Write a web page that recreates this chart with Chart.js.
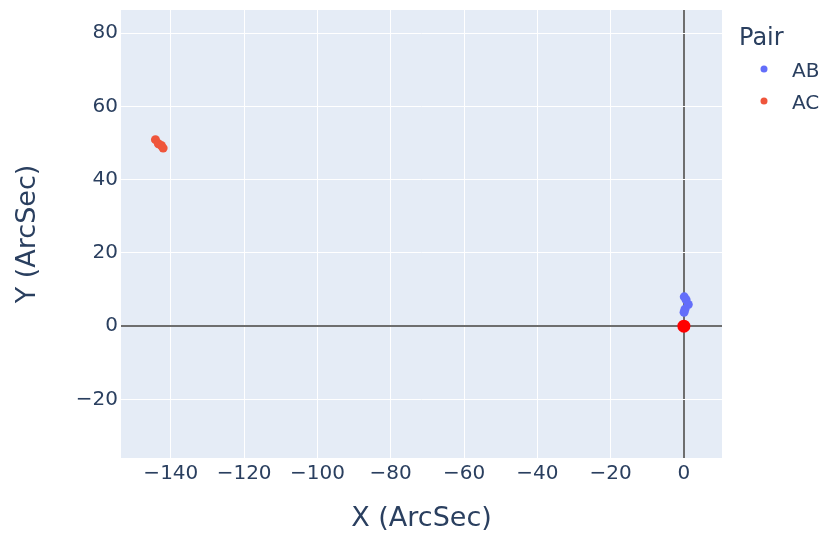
<!DOCTYPE html>
<html>
<head>
<meta charset="utf-8">
<script src="https://cdn.jsdelivr.net/npm/chart.js@4/dist/chart.umd.min.js"></script>
<style>
  html, body { margin: 0; padding: 0; background: #fff; }
  #wrap { width: 824px; height: 533px; position: relative; }
</style>
</head>
<body>
<div id="wrap"><canvas id="chart"></canvas></div>
<script>
// separation offsets (arcsec)
const abX = [0.1, 0.6, 1.2, 0.3, 0.05];
const abY = [8.0, 7.2, 5.9, 4.6, 3.8];
const acX = [-144.2, -143.4, -142.6, -142.1];
const acY = [50.9, 49.8, 49.3, 48.6];
const originX = [0];
const originY = [0];

const xTicks = [-140, -120, -100, -80, -60, -40, -20, 0];
const yTicks = [-20, 0, 20, 40, 60, 80];
const xRange = [-153.6, 10.4];
const yRange = [-36, 86.3];

const textColor = '#2a3f5f';
const fontFamily = '"DejaVu Sans", Verdana, sans-serif';

const toPoints = (xs, ys) => xs.map((x, i) => ({ x, y: ys[i] }));
const fmt = (v) => (v < 0 ? '\u2212' + Math.abs(v) : String(v));

const plotBg = {
  id: 'plotBg',
  beforeDraw(chart) {
    const { ctx, chartArea: a } = chart;
    ctx.save();
    ctx.fillStyle = '#e5ecf6';
    ctx.fillRect(a.left, a.top, a.right - a.left, a.bottom - a.top);
    ctx.restore();
  }
};

// plotly style legend on the right
const sideLegend = {
  id: 'sideLegend',
  afterDraw(chart) {
    const { ctx } = chart;
    ctx.save();
    ctx.fillStyle = textColor;
    ctx.textBaseline = 'alphabetic';
    ctx.textAlign = 'left';
    ctx.font = '24px ' + fontFamily;
    ctx.fillText('Pair', 739, 45);
    const items = chart.data.datasets.filter((d) => d.label !== 'origin');
    items.forEach((d, i) => {
      const y = 69 + i * 32;
      ctx.beginPath();
      ctx.arc(764, y, 3.5, 0, Math.PI * 2);
      ctx.fillStyle = d.backgroundColor;
      ctx.fill();
      ctx.fillStyle = textColor;
      ctx.font = '20px ' + fontFamily;
      ctx.fillText(d.label, 792, y + 8);
    });
    ctx.restore();
  }
};

const gridColor = (ctx) => (ctx.tick && ctx.tick.value === 0 ? '#6e6e6e' : '#ffffff');
const gridWidth = (ctx) => (ctx.tick && ctx.tick.value === 0 ? 2 : 1);

new Chart(document.getElementById('chart'), {
  type: 'scatter',
  data: {
    datasets: [
      {
        label: 'AB',
        data: toPoints(abX, abY),
        backgroundColor: '#636efa',
        borderWidth: 0,
        pointRadius: 4.5
      },
      {
        label: 'AC',
        data: toPoints(acX, acY),
        backgroundColor: '#ef553b',
        borderWidth: 0,
        pointRadius: 4.5
      },
      {
        label: 'origin',
        data: toPoints(originX, originY),
        backgroundColor: '#ff0000',
        borderWidth: 0,
        pointRadius: 6.5
      }
    ]
  },
  options: {
    responsive: true,
    maintainAspectRatio: false,
    animation: false,
    layout: { padding: { top: 10, right: 102, left: 0, bottom: 0 } },
    plugins: {
      legend: { display: false },
      tooltip: { enabled: false }
    },
    scales: {
      x: {
        type: 'linear',
        min: xRange[0],
        max: xRange[1],
        afterBuildTicks: (scale) => { scale.ticks = xTicks.map((v) => ({ value: v })); },
        afterFit: (scale) => {
          scale.height = 75;
          scale.paddingLeft = 0;
          scale.paddingRight = 0;
        },
        grid: { color: gridColor, lineWidth: gridWidth, drawTicks: false },
        border: { display: false },
        ticks: {
          color: textColor,
          padding: 4,
          maxRotation: 0,
          autoSkip: false,
          font: { family: fontFamily, size: 20 },
          callback: (v) => fmt(v)
        },
        title: {
          display: true,
          text: 'X (ArcSec)',
          color: textColor,
          font: { family: fontFamily, size: 27, lineHeight: 1 },
          padding: { top: 0, bottom: 1 }
        }
      },
      y: {
        type: 'linear',
        min: yRange[0],
        max: yRange[1],
        afterBuildTicks: (scale) => { scale.ticks = yTicks.map((v) => ({ value: v })); },
        afterFit: (scale) => {
          scale.width = 121;
          scale.paddingTop = 0;
          scale.paddingBottom = 0;
        },
        grid: { color: gridColor, lineWidth: gridWidth, drawTicks: false },
        border: { display: false },
        ticks: {
          color: textColor,
          padding: 3,
          autoSkip: false,
          font: { family: fontFamily, size: 20 },
          callback: (v) => fmt(v)
        },
        title: {
          display: true,
          text: 'Y (ArcSec)',
          color: textColor,
          font: { family: fontFamily, size: 27, lineHeight: 1 },
          padding: { top: 14, bottom: 0 }
        }
      }
    }
  },
  plugins: [plotBg, sideLegend]
});
</script>
</body>
</html>
